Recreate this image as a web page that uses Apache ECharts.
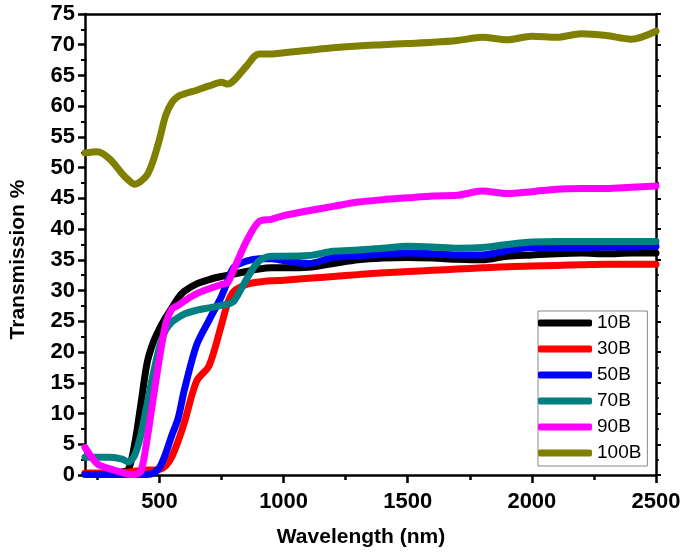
<!DOCTYPE html>
<html>
<head>
<meta charset="utf-8">
<script src="https://cdn.jsdelivr.net/npm/echarts@6/dist/echarts.min.js"></script>
<style>html,body{margin:0;padding:0;background:#fff}#c{width:685px;height:554px}</style>
</head>
<body>
<div id="c"></div>
<script>
const wavelength = [200,250,300,350,375,400,425,450,475,500,525,550,575,600,650,700,750,775,800,850,900,950,1000,1100,1200,1300,1400,1500,1600,1700,1800,1900,2000,2100,2200,2300,2400,2500];
const t10B  = [0.3,0.3,0.3,0.5,0.9,5.0,11.5,18.2,21.6,23.8,25.6,27.2,28.8,29.9,31.1,31.8,32.3,32.5,32.7,33.1,33.5,33.7,33.7,33.8,34.4,35.0,35.3,35.4,35.3,35.1,35.0,35.6,35.8,36.0,36.1,36.0,36.1,36.1];
const t30B  = [0.3,0.3,0.3,0.4,0.5,0.6,0.7,0.8,0.8,0.9,1.5,3.0,5.5,8.5,15.3,17.8,24.5,28.0,29.9,31.0,31.4,31.6,31.7,32.0,32.3,32.6,32.9,33.1,33.3,33.5,33.7,33.9,34.0,34.1,34.2,34.3,34.3,34.3];
const t50B  = [0.1,0.1,0.1,0.1,0.1,0.1,0.1,0.1,0.3,1.2,3.5,6.5,9.2,13.8,21.2,25.2,29.1,31.6,33.8,34.8,35.2,35.2,34.9,34.4,35.4,35.7,35.9,36.1,36.0,35.8,35.8,36.5,37.0,37.0,37.0,37.1,37.1,37.2];
const t70B  = [2.9,2.9,2.9,2.6,2.1,3.2,6.5,11.5,16.5,20.8,23.6,24.9,25.6,26.2,26.8,27.2,27.6,27.8,28.3,31.8,34.8,35.6,35.6,35.7,36.4,36.6,36.9,37.2,37.1,36.9,37.0,37.5,37.9,38.0,38.0,38.0,38.0,38.0];
const t90B  = [4.5,1.8,1.0,0.4,0.1,0.1,0.6,5.8,12.5,19.0,24.5,27.0,27.6,28.3,29.5,30.3,31.0,31.3,33.5,38.0,41.2,41.6,42.2,43.0,43.7,44.4,44.8,45.1,45.4,45.5,46.2,45.8,46.1,46.5,46.6,46.6,46.8,47.0];
const t100B = [52.4,52.6,51.4,49.0,48.0,47.3,47.8,48.8,51.2,54.6,58.5,60.6,61.6,62.0,62.6,63.3,63.9,63.6,64.2,66.5,68.5,68.5,68.7,69.1,69.5,69.8,70.0,70.2,70.4,70.7,71.2,70.8,71.4,71.2,71.8,71.5,70.9,72.2];
const seriesNames = ['10B','30B','50B','70B','90B','100B'];
const seriesColors = ['#000000','#ff0000','#0000ff','#008080','#ff00ff','#808000'];
const majorTicks = [500,1000,1500,2000,2500];
const minorTicks = [250,750,1250,1750,2250];

const FONT = '"Liberation Sans", Arial, sans-serif';
const allValues = [t10B,t30B,t50B,t70B,t90B,t100B];
const chart = echarts.init(document.getElementById('c'));
const axisLineStyle = {color:'#000', width:2.5};
chart.setOption({
  animation:false,
  backgroundColor:'#fff',
  grid:{left:83, right:29, top:14, bottom:79},
  legend:{
    orient:'vertical', left:538, top:311,
    icon:'roundRect', itemWidth:54, itemHeight:7, itemGap:6,
    padding:[2,6,3,0],
    borderColor:'#888', borderWidth:1,
    textStyle:{fontFamily:FONT, fontSize:19, color:'#000', lineHeight:20},
    data:seriesNames
  },
  xAxis:[
    {type:'value', min:200, max:2500, position:'bottom',
     axisLine:{show:true, lineStyle:axisLineStyle},
     axisTick:{show:true, customValues:majorTicks, length:8, lineStyle:{width:2.5,color:'#000'}},
     axisLabel:{customValues:majorTicks, formatter:(v)=>String(v), fontFamily:FONT, fontSize:22, fontWeight:'bold', color:'#000', margin:16},
     splitLine:{show:false},
     name:'Wavelength (nm)', nameLocation:'middle', nameGap:52,
     nameTextStyle:{fontFamily:FONT, fontSize:21, fontWeight:'bold', color:'#000', padding:[0,19,0,0]}},
    {type:'value', min:200, max:2500, position:'bottom',
     axisLine:{show:false},
     axisTick:{show:true, customValues:minorTicks, length:5, lineStyle:{width:2.5,color:'#000'}},
     axisLabel:{show:false}, splitLine:{show:false}},
    {type:'value', min:200, max:2500, position:'top',
     axisLine:{show:true, lineStyle:axisLineStyle},
     axisTick:{show:false}, axisLabel:{show:false}, splitLine:{show:false}}
  ],
  yAxis:[
    {type:'value', min:0, max:75, interval:5, position:'left',
     axisLine:{show:true, lineStyle:axisLineStyle},
     axisTick:{show:true, length:7, lineStyle:{width:2.5,color:'#000'}},
     minorTick:{show:true, splitNumber:2, length:4, lineStyle:{width:2,color:'#000'}},
     axisLabel:{fontFamily:FONT, fontSize:22, fontWeight:'bold', color:'#000', margin:10},
     splitLine:{show:false},
     name:'Transmission %', nameLocation:'middle', nameGap:56,
     nameTextStyle:{fontFamily:FONT, fontSize:21, fontWeight:'bold', color:'#000', padding:[0,30,0,0]}},
    {type:'value', min:0, max:75, interval:5, position:'right',
     axisLine:{show:true, lineStyle:axisLineStyle},
     axisTick:{show:true, length:5, lineStyle:{width:2,color:'#000'}},
     minorTick:{show:true, splitNumber:2, length:3, lineStyle:{width:1.5,color:'#000'}},
     axisLabel:{show:false}, splitLine:{show:false}}
  ],
  series: seriesNames.map((n,k)=>({
    name:n, type:'line', xAxisIndex:0, yAxisIndex:0,
    data: wavelength.map((w,i)=>[w, allValues[k][i]]),
    showSymbol:false, smooth:0.3,
    lineStyle:{width:7, color:seriesColors[k], cap:'round', join:'round'},
    itemStyle:{color:seriesColors[k]}
  }))
});
</script>
</body>
</html>
